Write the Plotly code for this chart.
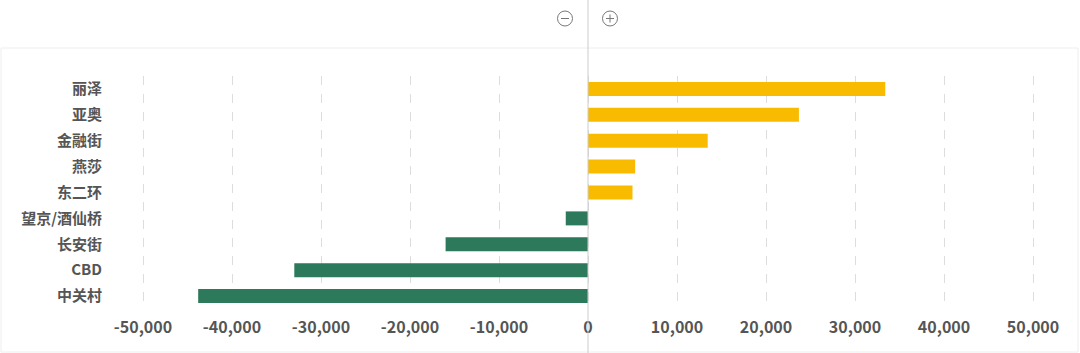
import plotly.graph_objects as go

categories = ["丽泽", "亚奥", "金融街", "燕莎", "东二环", "望京/酒仙桥", "长安街", "CBD", "中关村"]
values = [33400, 23700, 13450, 5300, 5000, -2500, -16000, -33000, -43800]
tick_vals = [-50000, -40000, -30000, -20000, -10000, 0, 10000, 20000, 30000, 40000, 50000]
tick_text = ["-50,000", "-40,000", "-30,000", "-20,000", "-10,000", "0",
             "10,000", "20,000", "30,000", "40,000", "50,000"]

POS = "#F9BB00"
NEG = "#2C795B"
colors = [POS if v >= 0 else NEG for v in values]

W, H = 1080, 353
ML, MR, MT, MB = 112, 16, 76, 44
PW, PH = W - ML - MR, H - MT - MB
FONT = "Noto Sans CJK SC"


def px(x):
    return (x - ML) / PW


def py(y):
    return (H - MB - y) / PH


fig = go.Figure(go.Bar(
    y=categories, x=values, orientation="h",
    marker=dict(color=colors, line=dict(width=0)),
    hoverinfo="x+y",
))

shapes = []
# light frame
shapes.append(dict(type="rect", xref="paper", yref="paper",
                   x0=px(1), x1=px(1078), y0=py(352), y1=py(48),
                   line=dict(color="#EEEEEE", width=1), layer="below"))
# zero line spanning full height
shapes.append(dict(type="line", xref="paper", yref="paper",
                   x0=0.5, x1=0.5, y0=py(353), y1=py(0),
                   line=dict(color="#CCCCCC", width=1), layer="above"))
# minus / plus icons
for cx, plus in [(565, False), (610, True)]:
    common = dict(xref="paper", yref="paper", xsizemode="pixel", ysizemode="pixel",
                  xanchor=px(cx), yanchor=py(18.5))
    shapes.append(dict(type="circle", x0=-7.5, x1=7.5, y0=-7.5, y1=7.5,
                       line=dict(color="#777777", width=1), **common))
    shapes.append(dict(type="line", x0=-4, x1=4, y0=0, y1=0,
                       line=dict(color="#777777", width=1), **common))
    if plus:
        shapes.append(dict(type="line", x0=0, x1=0, y0=-4, y1=4,
                           line=dict(color="#777777", width=1), **common))

fig.update_layout(
    width=W, height=H,
    margin=dict(l=ML, r=MR, t=MT, b=MB),
    paper_bgcolor="white", plot_bgcolor="white",
    bargap=0.46,
    showlegend=False,
    font=dict(family=FONT, color="#555555", size=15),
    shapes=shapes,
    xaxis=dict(
        range=[-53483, 53483],
        tickvals=tick_vals, ticktext=tick_text,
        showgrid=True, gridcolor="#DDDDDD", griddash="dash", gridwidth=1,
        zeroline=False, showline=False, ticks="",
        tickfont=dict(family=FONT, size=16, color="#555555", weight="bold"),
        ticklabelstandoff=7,
        fixedrange=True,
    ),
    yaxis=dict(
        autorange="reversed",
        showgrid=False, zeroline=False, showline=False, ticks="",
        tickfont=dict(family=FONT, size=15, color="#555555", weight="bold"),
        ticklabelstandoff=9,
        fixedrange=True,
    ),
)

fig.write_html("out.html")
